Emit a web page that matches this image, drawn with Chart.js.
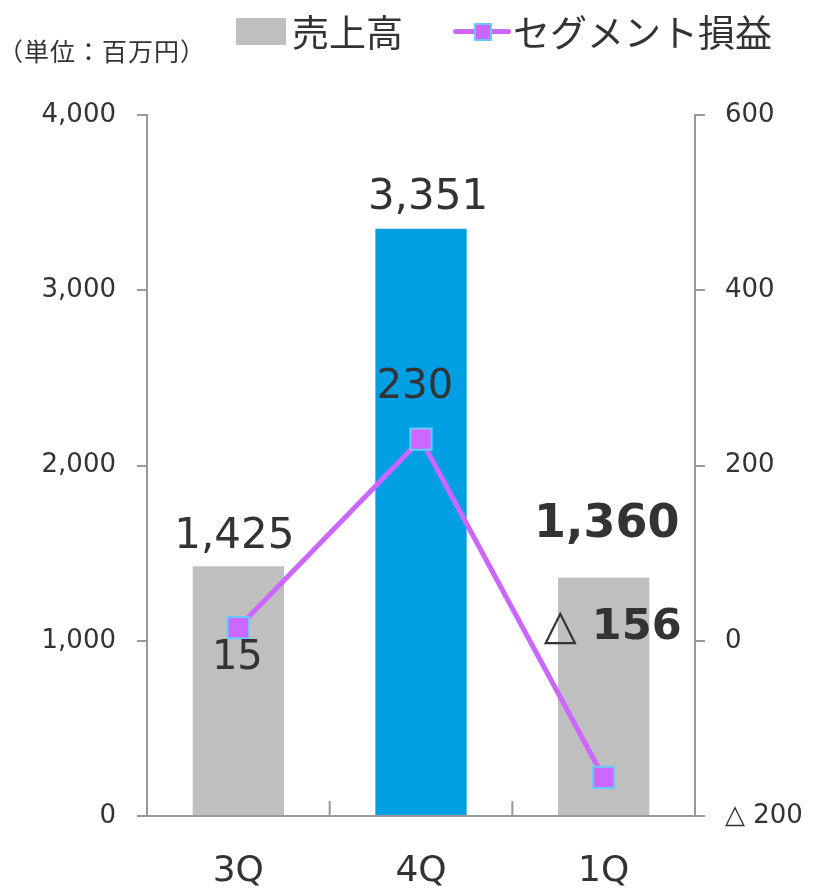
<!DOCTYPE html>
<html lang="ja">
<head>
<meta charset="utf-8">
<script src="https://cdn.jsdelivr.net/npm/chart.js@4/dist/chart.umd.min.js"></script>
<style>
  html, body { margin: 0; padding: 0; background: #fff; }
  #wrap { position: relative; width: 814px; height: 888px; }
  #unit { position: absolute; left: -2px; top: 32px; font: 25px "Noto Sans CJK JP", sans-serif; letter-spacing: 1px; color: #333; }
  #legend { position: absolute; top: 4px; left: 236px; display: flex; align-items: center; font: 37px "Noto Sans CJK JP", sans-serif; color: #333; }
  .box { width: 50px; height: 27px; background: #bfbfbf; margin-right: 6px; }
  .lineKey { position: relative; width: 58px; height: 27px; margin: 0 2px 0 50px; }
  .lineKey .bar { position: absolute; left: 0; right: 0; top: 11px; height: 5px; background: #cc66ff; border-radius: 3px; }
  .lineKey .pt { position: absolute; left: 21px; top: 5px; width: 14px; height: 14px; background: #cc66ff; border: 2px solid #66ccff; }
</style>
</head>
<body>
<div id="wrap">
  <canvas id="c" width="814" height="888"></canvas>
  <div id="unit">（単位：百万円）</div>
  <div id="legend">
    <div class="box"></div><span>売上高</span>
    <div class="lineKey"><div class="bar"></div><div class="pt"></div></div><span>セグメント損益</span>
  </div>
</div>
<script>
const categories = ['3Q', '4Q', '1Q'];
const sales = [1425, 3351, 1360];
const segmentProfit = [15, 230, -156];
const barColors = ['#bfbfbf', '#009fe3', '#bfbfbf'];

const txt = '#333333';
const axisGray = '#999999';
const numFont = '"DejaVu Sans", Verdana, sans-serif';

function fmt(v) {
    const s = Math.abs(v).toLocaleString('en-US');
    return v < 0 ? '△ ' + s : s;
}

// value labels: bars above their tops, line labels placed around the points
const salesLabelStyle = [
    { dx: -4, dy: -8, bold: false, size: 42 },
    { dx: 7, dy: -10, bold: false, size: 42 },
    { dx: 3, dy: -30, bold: true, size: 46 }
];
const profitLabelStyle = [
    { dx: -1, dy: 31, bold: false, size: 40 },
    { dx: -6, dy: -52, bold: false, size: 40 },
    { dx: 9, dy: -150, bold: true, size: 43 }
];

const labelPlugin = {
    id: 'valueLabels',
    afterDatasetsDraw(chart) {
        const ctx = chart.ctx;
        ctx.save();
        ctx.fillStyle = txt;
        ctx.textAlign = 'center';

        const bars = chart.getDatasetMeta(0).data;
        bars.forEach((el, i) => {
            const st = salesLabelStyle[i];
            ctx.font = (st.bold ? 'bold ' : '') + st.size + 'px ' + numFont;
            ctx.textBaseline = 'bottom';
            ctx.fillText(fmt(sales[i]), el.x + st.dx, el.y + st.dy);
        });

        const pts = chart.getDatasetMeta(1).data;
        pts.forEach((el, i) => {
            const st = profitLabelStyle[i];
            ctx.font = (st.bold ? 'bold ' : '') + st.size + 'px ' + numFont;
            ctx.textBaseline = 'middle';
            ctx.fillText(fmt(segmentProfit[i]), el.x + st.dx, el.y + st.dy);
        });
        ctx.restore();
    }
};

// short inward tick marks between categories on the x axis
const catTicks = {
    id: 'catTicks',
    afterDraw(chart) {
        const x = chart.scales.x;
        const ctx = chart.ctx;
        const bottom = chart.chartArea.bottom;
        ctx.save();
        ctx.strokeStyle = axisGray;
        ctx.lineWidth = 2;
        for (let i = 0; i < categories.length - 1; i++) {
            const px = (x.getPixelForValue(i) + x.getPixelForValue(i + 1)) / 2;
            ctx.beginPath();
            ctx.moveTo(px, bottom);
            ctx.lineTo(px, bottom - 15);
            ctx.stroke();
        }
        ctx.restore();
    }
};

new Chart(document.getElementById('c').getContext('2d'), {
    data: {
        labels: categories,
        datasets: [
            {
                type: 'bar',
                label: '売上高',
                data: sales,
                backgroundColor: barColors,
                barPercentage: 0.5,
                categoryPercentage: 1,
                yAxisID: 'y',
                order: 2
            },
            {
                type: 'line',
                label: 'セグメント損益',
                data: segmentProfit,
                borderColor: '#cc66ff',
                borderWidth: 5,
                pointStyle: 'rect',
                pointRadius: 15,
                pointBackgroundColor: '#cc66ff',
                pointBorderColor: '#66ccff',
                pointBorderWidth: 2,
                yAxisID: 'y1',
                order: 1
            }
        ]
    },
    options: {
        responsive: false,
        animation: false,
        layout: { padding: { top: 115, left: 40, right: 4, bottom: 0 } },
        plugins: {
            legend: { display: false },
            tooltip: { enabled: false }
        },
        scales: {
            x: {
                grid: { display: false },
                border: { display: true, color: axisGray, width: 2 },
                ticks: { color: txt, font: { family: numFont, size: 36 }, padding: 26 },
                afterFit(s) { s.height = 72; }
            },
            y: {
                position: 'left',
                min: 0, max: 4000,
                ticks: { stepSize: 1000, color: txt, font: { family: numFont, size: 26 }, padding: 21, callback: v => fmt(v) },
                grid: { drawOnChartArea: false, color: axisGray, lineWidth: 2, tickLength: 10 },
                border: { display: true, color: axisGray, width: 2 },
                afterFit(s) { s.width = 107; }
            },
            y1: {
                position: 'right',
                min: -200, max: 600,
                ticks: { stepSize: 200, color: txt, font: { family: numFont, size: 26 }, padding: 20, callback: v => fmt(v) },
                grid: { drawOnChartArea: false, color: axisGray, lineWidth: 2, tickLength: 10 },
                border: { display: true, color: axisGray, width: 2 },
                afterFit(s) { s.width = 115; }
            }
        }
    },
    plugins: [labelPlugin, catTicks]
});
</script>
</body>
</html>
